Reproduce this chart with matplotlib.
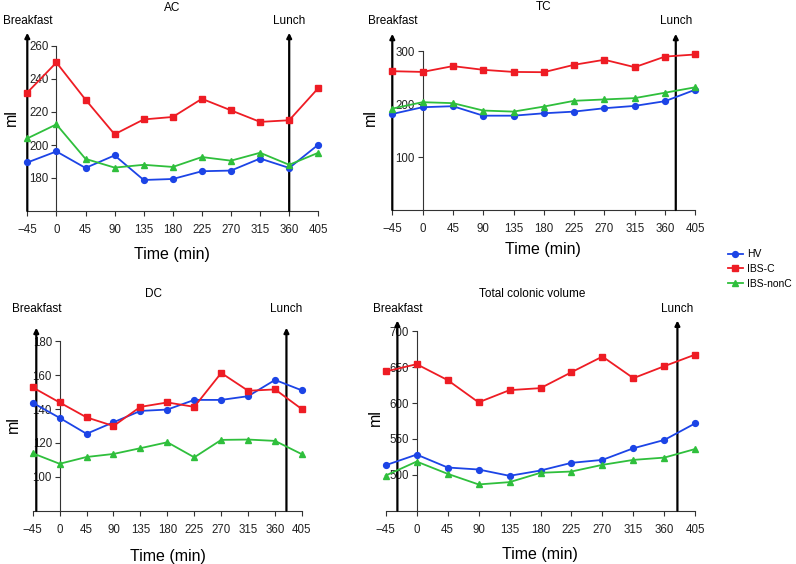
import numpy as np
import matplotlib.pyplot as plt
from matplotlib import transforms

plt.rcParams['font.family'] = ['Liberation Sans', 'DejaVu Sans']

# time points (min)
times = [-45, 0, 45, 90, 135, 180, 225, 270, 315, 360, 405]
time_labels = ['\u221245', '0', '45', '90', '135', '180', '225', '270', '315', '360', '405']

# AC
ac_hv = [189.4, 196.1, 186.1, 193.7, 178.8, 179.4, 184.1, 184.5, 191.8, 186.1, 200.2]
ac_ibsc = [231.8, 250.0, 227.5, 206.5, 215.5, 217.0, 228.0, 221.0, 214.0, 215.0, 234.5]
ac_nonc = [204.0, 212.5, 191.6, 186.3, 188.0, 186.7, 192.7, 190.5, 195.3, 188.0, 195.3]

# TC
tc_hv = [181.5, 194.3, 196.2, 178.3, 178.3, 182.8, 186.0, 192.4, 196.8, 205.7, 227.4]
tc_ibsc = [262.4, 261.0, 272.0, 265.0, 261.0, 260.5, 274.5, 284.0, 270.0, 290.0, 294.0]
tc_nonc = [191.7, 203.8, 202.0, 188.0, 186.0, 195.5, 206.4, 209.0, 211.5, 221.7, 232.0]

# DC
dc_hv = [143.7, 134.8, 125.4, 132.2, 138.9, 139.7, 145.4, 145.4, 147.6, 157.2, 151.0]
dc_ibsc = [152.8, 143.9, 135.1, 130.0, 141.3, 143.9, 141.3, 161.3, 150.8, 151.6, 139.9]
dc_nonc = [113.9, 107.7, 111.7, 113.5, 116.9, 120.4, 111.5, 121.8, 122.0, 121.2, 113.3]

# Total colonic volume
tot_hv = [513.4, 528.2, 510.2, 507.4, 498.6, 506.0, 516.7, 520.8, 537.0, 548.6, 571.8]
tot_ibsc = [644.0, 654.2, 632.0, 601.0, 618.0, 620.8, 643.0, 664.8, 634.7, 651.4, 667.6]
tot_nonc = [499.0, 518.5, 501.4, 486.6, 489.8, 502.8, 504.6, 513.9, 520.8, 524.0, 536.0]

group_names = ['HV', 'IBS-C', 'IBS-nonC']
colors = ['#1c44e6', '#ee1c24', '#2fbf3c']
markers = ['o', 's', '^']
msizes = [4.2, 4.6, 4.2]

W, H = 796, 564


def fx(px):
    return px / W


def fy(py):
    return 1 - py / H


fig = plt.figure(figsize=(W / 100, H / 100), dpi=100)

panels = [
    # title, data, ylim, yticks, breakfast x, lunch x, arrow tip (axes frac), rect px (l, r, top, bottom)
    dict(title='AC', data=(ac_hv, ac_ibsc, ac_nonc), ylim=(160, 260),
         yticks=[180, 200, 220, 240, 260], bk=-45, lu=360, tip=1.08,
         rect=(27.3, 318.3, 46, 211), title_xy=(172, 8), xl_xy=(172, 254),
         yl_xy=(11, 118), lab_y=21),
    dict(title='TC', data=(tc_hv, tc_ibsc, tc_nonc), ylim=(0, 300),
         yticks=[100, 200, 300], bk=-45, lu=376, tip=1.11,
         rect=(392.3, 695.3, 51.3, 210), title_xy=(544, 7), xl_xy=(543, 250),
         yl_xy=(370, 118), lab_y=21),
    dict(title='DC', data=(dc_hv, dc_ibsc, dc_nonc), ylim=(80, 180),
         yticks=[100, 120, 140, 160, 180], bk=-39, lu=379, tip=1.08,
         rect=(32.7, 302, 341.3, 510.7), title_xy=(153, 294), xl_xy=(168, 556),
         yl_xy=(13, 425), lab_y=309),
    dict(title='Total colonic volume', data=(tot_hv, tot_ibsc, tot_nonc), ylim=(450, 700),
         yticks=[500, 550, 600, 650, 700], bk=-28, lu=379, tip=1.06,
         rect=(385.7, 695.3, 331.3, 510.7), title_xy=(532, 294), xl_xy=(540, 555),
         yl_xy=(375, 418), lab_y=309),
]

handles = []
for p in panels:
    l, r, t, b = p['rect']
    ax = fig.add_axes([fx(l), fy(b), fx(r) - fx(l), fy(t) - fy(b)])
    ax.set_xlim(-45, 405)
    ax.set_ylim(*p['ylim'])
    for spine in ['top', 'right']:
        ax.spines[spine].set_visible(False)
    ax.spines['left'].set_position(('data', 0))
    ax.spines['left'].set_bounds(p['ylim'][0], p['yticks'][-1])
    ax.spines['left'].set_color('#333333')
    ax.spines['left'].set_linewidth(0.8)
    ax.spines['bottom'].set_color('#333333')
    ax.spines['bottom'].set_linewidth(0.8)
    ax.set_xticks(times)
    ax.set_xticklabels(time_labels)
    ax.set_yticks(p['yticks'])
    ax.tick_params(axis='both', direction='out', length=3.5, width=0.8,
                   color='#333333', labelsize=8.3, labelcolor='#222222', pad=2)
    ax.tick_params(axis='x', pad=6)
    ax.patch.set_alpha(0)

    # meal arrows
    trans = transforms.blended_transform_factory(ax.transData, ax.transAxes)
    for xa in (p['bk'], p['lu']):
        ax.annotate('', xy=(xa, p['tip']), xytext=(xa, 0), xycoords=trans,
                    textcoords=trans,
                    arrowprops=dict(arrowstyle='-|>', lw=1.6, color='black',
                                    mutation_scale=7, shrinkA=0, shrinkB=0))
    ftrans = transforms.blended_transform_factory(ax.transData, fig.transFigure)
    ax.text(p['bk'], fy(p['lab_y']), 'Breakfast', transform=ftrans,
            ha='center', va='center', fontsize=8.5)
    ax.text(p['lu'], fy(p['lab_y']), 'Lunch', transform=ftrans,
            ha='center', va='center', fontsize=8.5)

    hs = []
    for vals, name, c, m, ms in zip(p['data'], group_names, colors, markers, msizes):
        h, = ax.plot(times, vals, color=c, marker=m, markersize=ms, lw=1.3,
                     label=name, clip_on=False, zorder=3)
        hs.append(h)
    handles = hs

    fig.text(fx(p['title_xy'][0]), fy(p['title_xy'][1]), p['title'],
             ha='center', va='center', fontsize=8.5)
    fig.text(fx(p['xl_xy'][0]), fy(p['xl_xy'][1]), 'Time (min)',
             ha='center', va='center', fontsize=11.5)
    fig.text(fx(p['yl_xy'][0]), fy(p['yl_xy'][1]), 'ml',
             ha='center', va='center', fontsize=11.5, rotation=90)

fig.legend(handles, group_names, loc='center left',
           bbox_to_anchor=(fx(728), fy(269)), frameon=False, fontsize=7.5,
           handlelength=1.4, handletextpad=0.4, labelspacing=0.45,
           borderpad=0, borderaxespad=0)

fig.savefig('out.png', dpi=100)
